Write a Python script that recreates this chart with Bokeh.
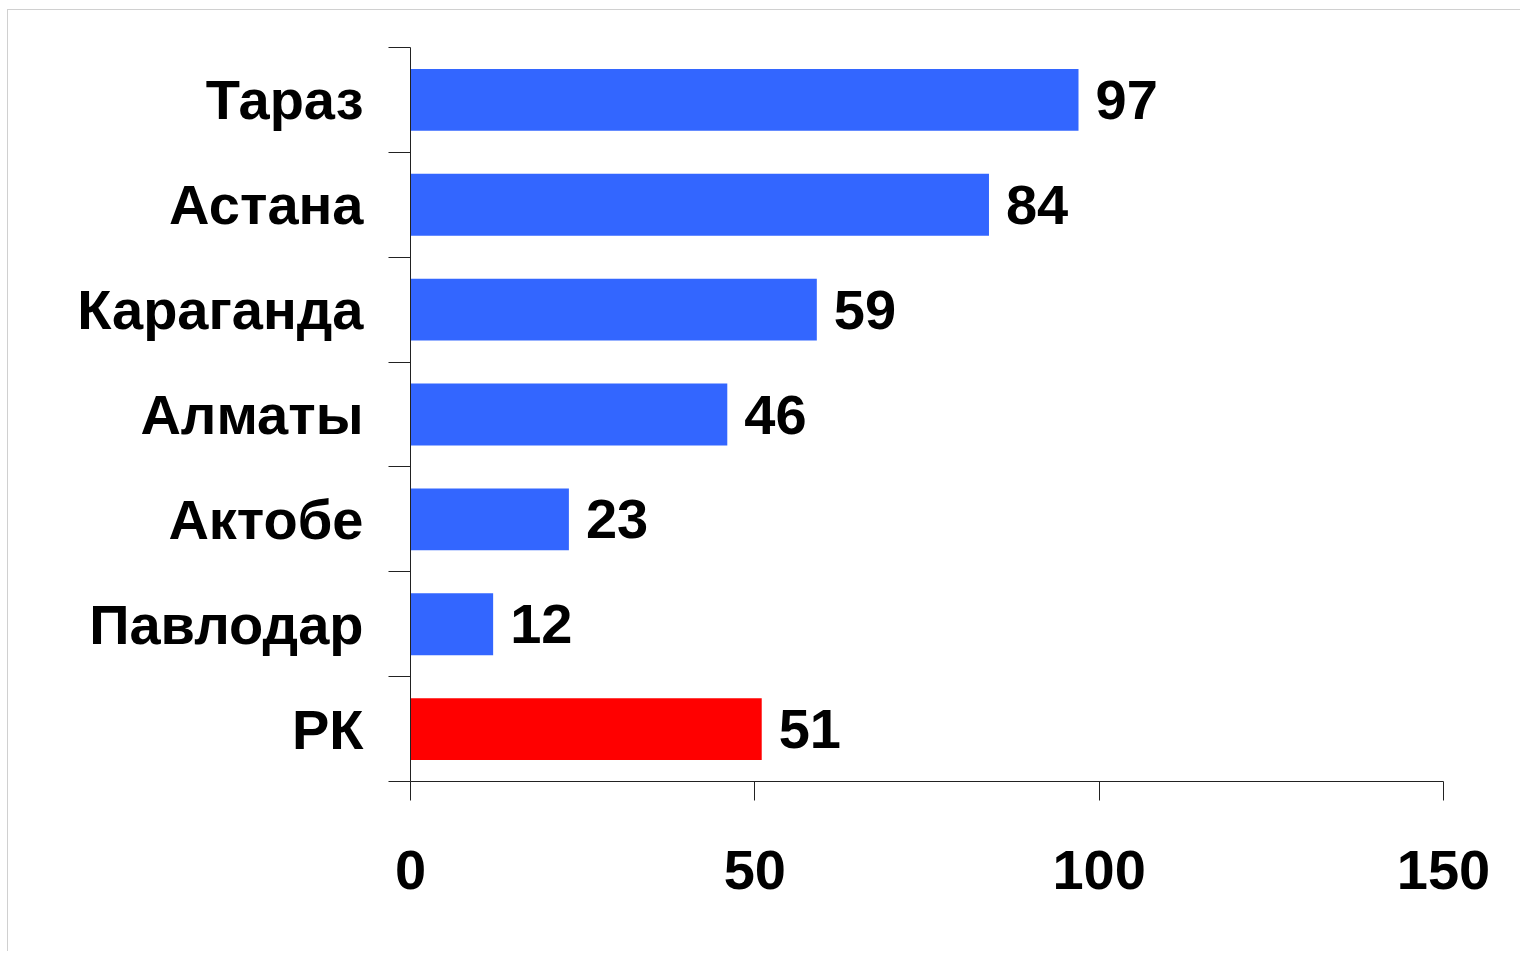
from bokeh.plotting import figure
from bokeh.models import ColumnDataSource, FixedTicker, LabelSet, Range1d
from bokeh.core.properties import value
from bokeh.embed import file_html
from bokeh.resources import INLINE

# Data (top to bottom in the picture)
cities = ["Тараз", "Астана", "Караганда", "Алматы", "Актобе", "Павлодар", "РК"]
values = [97, 84, 59, 46, 23, 12, 51]
colors = ["#3366FF", "#3366FF", "#3366FF", "#3366FF", "#3366FF", "#3366FF", "#FF0000"]
x_ticks = [0, 50, 100, 150]

n = len(cities)
ypos = [n - i - 0.5 for i in range(n)]
src = ColumnDataSource(dict(y=ypos, v=values, c=colors, lab=[str(v) for v in values]))

FONT = "Liberation Sans"
FS = "56px"

p = figure(width=1513, height=942, output_backend="svg", toolbar_location=None,
           x_range=Range1d(0, 150), y_range=Range1d(0, n))
p.min_border_left = 402
p.min_border_right = 78
p.min_border_top = 37
p.min_border_bottom = 171
p.outline_line_color = None
p.grid.visible = False
p.background_fill_color = "white"
p.border_fill_color = "white"
p.styles = {"margin-left": "7px", "margin-top": "9px",
            "border-left": "1px solid #d0d0d0", "border-top": "1px solid #d0d0d0"}

p.hbar(y="y", left=0, right="v", height=0.59, fill_color="c", line_color=None, source=src)

labels = LabelSet(x="v", y="y", text="lab", x_offset=17, source=src,
                  text_baseline="middle", text_align="left",
                  text_font=value(FONT), text_font_style="bold", text_font_size=FS,
                  text_color="black")
p.add_layout(labels)

# x axis
xa = p.xaxis[0]
xa.ticker = FixedTicker(ticks=x_ticks, minor_ticks=[])
xa.major_tick_in = 0
xa.major_tick_out = 19
xa.minor_tick_out = 0
xa.minor_tick_in = 0
xa.axis_line_color = "#222222"
xa.major_tick_line_color = "#222222"
xa.major_label_text_font = FONT
xa.major_label_text_font_style = "bold"
xa.major_label_text_font_size = FS
xa.major_label_text_color = "black"
xa.major_label_standoff = 50

# y axis: labels at category centres, tick marks at boundaries
ya = p.yaxis[0]
ya.ticker = FixedTicker(ticks=ypos, minor_ticks=list(range(n + 1)))
ya.major_label_overrides = {y: c for y, c in zip(ypos, cities)}
ya.major_tick_in = 0
ya.major_tick_out = 0
ya.minor_tick_in = 0
ya.minor_tick_out = 22
ya.axis_line_color = "#222222"
ya.minor_tick_line_color = "#222222"
ya.major_label_text_font = FONT
ya.major_label_text_font_style = "bold"
ya.major_label_text_font_size = FS
ya.major_label_text_color = "black"
ya.major_label_standoff = 25

open("out.html", "w").write(file_html(p, INLINE))
